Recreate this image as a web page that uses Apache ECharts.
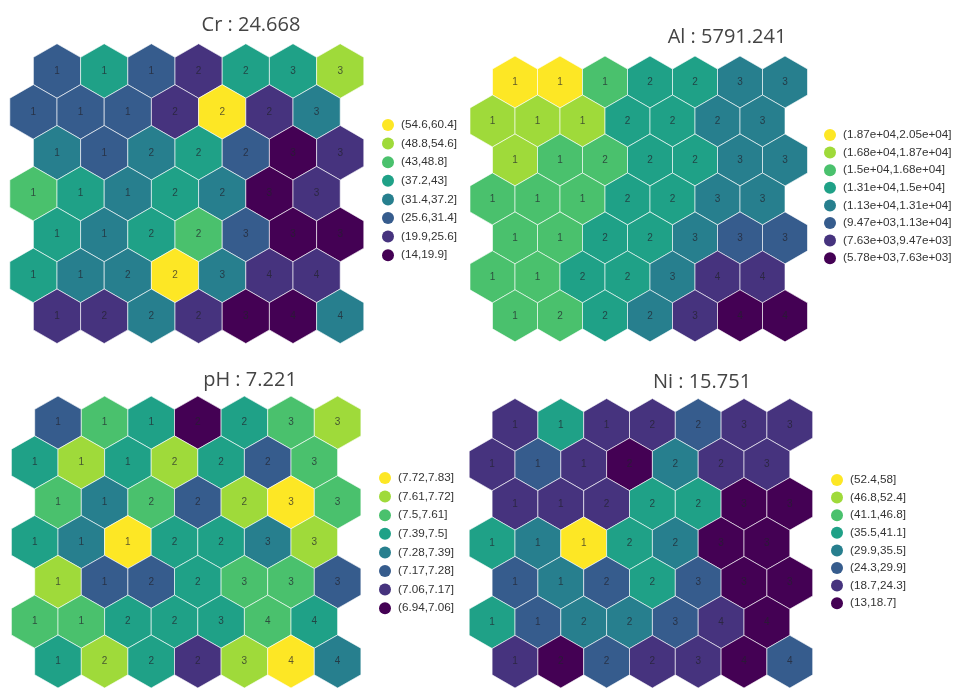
<!DOCTYPE html>
<html>
<head>
<meta charset="utf-8">
<title>SOM property maps</title>
<script src="https://cdn.jsdelivr.net/npm/echarts@6/dist/echarts.min.js"></script>
<style>
  html, body { margin: 0; padding: 0; background: #fff; }
  #chart { width: 953px; height: 688px; }
</style>
</head>
<body>
<div id="chart"></div>
<script>
// Cluster assignment of each SOM node (rows top to bottom, 7 x 7)
const clusters = [
  [1, 1, 1, 2, 2, 3, 3],
  [1, 1, 1, 2, 2, 2, 3],
  [1, 1, 2, 2, 2, 3, 3],
  [1, 1, 1, 2, 2, 3, 3],
  [1, 1, 2, 2, 3, 3, 3],
  [1, 1, 2, 2, 3, 4, 4],
  [1, 2, 2, 2, 3, 4, 4]
];

// Node codebook values per variable
const crValues = [
  [29.1, 40.2, 28.7, 22.4, 39.5, 38.1, 51.3],
  [27.9, 28.4, 29.6, 23.1, 59.8, 22.0, 34.2],
  [33.5, 27.2, 35.1, 39.8, 30.2, 15.6, 23.7],
  [46.2, 38.9, 34.6, 40.1, 33.2, 16.3, 22.9],
  [39.0, 35.8, 38.3, 44.7, 29.4, 17.2, 18.1],
  [40.6, 34.1, 33.9, 57.5, 35.4, 24.2, 23.6],
  [21.8, 23.3, 36.0, 22.7, 16.9, 18.4, 33.0]
];
const alValues = [
  [20400, 19600, 15900, 14100, 14300, 12400, 12000],
  [17600, 17900, 17300, 13800, 14000, 12600, 12200],
  [17100, 15600, 15300, 14200, 14500, 12500, 12300],
  [16000, 15800, 15400, 13900, 13700, 12100, 12300],
  [15700, 15500, 13600, 13500, 12000, 10900, 10700],
  [15900, 15600, 13400, 13300, 11900, 8900, 9100],
  [15500, 15200, 13200, 13100, 8600, 6200, 5900]
];
const phValues = [
  [7.22, 7.55, 7.44, 6.98, 7.46, 7.57, 7.66],
  [7.43, 7.68, 7.45, 7.64, 7.47, 7.24, 7.56],
  [7.54, 7.33, 7.58, 7.21, 7.69, 7.81, 7.53],
  [7.42, 7.35, 7.78, 7.46, 7.44, 7.31, 7.65],
  [7.67, 7.20, 7.23, 7.48, 7.55, 7.57, 7.25],
  [7.52, 7.54, 7.45, 7.41, 7.44, 7.59, 7.47],
  [7.42, 7.63, 7.46, 7.12, 7.66, 7.75, 7.34]
];
const niValues = [
  [21.4, 38.2, 22.3, 21.9, 26.8, 20.5, 21.1],
  [20.7, 27.5, 22.0, 15.3, 32.4, 21.6, 22.8],
  [22.9, 21.2, 23.4, 37.6, 38.9, 14.2, 13.8],
  [37.1, 33.6, 57.6, 38.4, 31.7, 14.8, 15.6],
  [28.3, 32.9, 27.1, 39.2, 26.4, 16.0, 13.5],
  [38.7, 27.9, 31.2, 32.1, 28.0, 22.5, 17.4],
  [21.0, 16.8, 26.2, 21.7, 23.0, 17.9, 27.4]
];

// Bin edges (low to high) and their legend labels
const crBreaks = [14, 19.9, 25.6, 31.4, 37.2, 43, 48.8, 54.6, 60.4];
const crLabels = ['(14,19.9]', '(19.9,25.6]', '(25.6,31.4]', '(31.4,37.2]', '(37.2,43]', '(43,48.8]', '(48.8,54.6]', '(54.6,60.4]'];
const alBreaks = [5780, 7630, 9470, 11300, 13100, 15000, 16800, 18700, 20500];
const alLabels = ['(5.78e+03,7.63e+03]', '(7.63e+03,9.47e+03]', '(9.47e+03,1.13e+04]', '(1.13e+04,1.31e+04]', '(1.31e+04,1.5e+04]', '(1.5e+04,1.68e+04]', '(1.68e+04,1.87e+04]', '(1.87e+04,2.05e+04]'];
const phBreaks = [6.94, 7.06, 7.17, 7.28, 7.39, 7.5, 7.61, 7.72, 7.83];
const phLabels = ['(6.94,7.06]', '(7.06,7.17]', '(7.17,7.28]', '(7.28,7.39]', '(7.39,7.5]', '(7.5,7.61]', '(7.61,7.72]', '(7.72,7.83]'];
const niBreaks = [13, 18.7, 24.3, 29.9, 35.5, 41.1, 46.8, 52.4, 58];
const niLabels = ['(13,18.7]', '(18.7,24.3]', '(24.3,29.9]', '(29.9,35.5]', '(35.5,41.1]', '(41.1,46.8]', '(46.8,52.4]', '(52.4,58]'];

const titles = ['Cr : 24.668', 'Al : 5791.241', 'pH : 7.221', 'Ni : 15.751'];

// viridis, 8 steps
const palette = ['#440154', '#46337E', '#365C8D', '#277F8E', '#1FA187', '#4AC16D', '#9FDA3A', '#FDE725'];

const SQ3 = Math.sqrt(3);
const R = 1 / SQ3;          // hex circumradius for unit spacing
const ROW_STEP = SQ3 / 2;   // vertical distance between rows

// Panel placement: first centre of the top row, hex spacing, title and legend anchors
const panels = [
  { values: crValues, breaks: crBreaks, labels: crLabels, cx: 57, cy: 71, w: 47.2, tx: 251, ty: 25, lx: 367, ly: 104, gap: 6.6 },
  { values: alValues, breaks: alBreaks, labels: alLabels, cx: 515, cy: 82, w: 45, tx: 727, ty: 37, lx: 809, ly: 114, gap: 5.6 },
  { values: phValues, breaks: phBreaks, labels: phLabels, cx: 58, cy: 423, w: 46.6, tx: 250, ty: 380, lx: 364, ly: 457, gap: 6.6 },
  { values: niValues, breaks: niBreaks, labels: niLabels, cx: 515, cy: 425, w: 45.8, tx: 702, ty: 382, lx: 816, ly: 459, gap: 5.6 }
];

function nodeData(values) {
  const out = [];
  for (let r = 0; r < values.length; r++) {
    for (let c = 0; c < values[r].length; c++) {
      const x = c + (r % 2 === 0 ? 0.5 : 0);
      out.push([x, r * ROW_STEP, values[r][c], clusters[r][c]]);
    }
  }
  return out;
}

function renderHex(params, api) {
  const center = api.coord([api.value(0), api.value(1)]);
  const unit = api.size([1, 1]);
  const pts = [];
  for (let k = 0; k < 6; k++) {
    const a = Math.PI / 2 + k * Math.PI / 3;
    pts.push([center[0] + R * unit[0] * Math.cos(a), center[1] + R * unit[1] * Math.sin(a)]);
  }
  return {
    type: 'group',
    children: [
      {
        type: 'polygon',
        shape: { points: pts },
        style: { fill: api.visual('color'), stroke: 'rgba(255,255,255,0.6)', lineWidth: 1 }
      },
      {
        type: 'text',
        x: center[0],
        y: center[1],
        style: {
          text: String(api.value(3)),
          align: 'center',
          verticalAlign: 'middle',
          fontSize: 10,
          fontFamily: 'Liberation Sans, Arial, sans-serif',
          fill: 'rgba(35,35,45,0.72)'
        }
      }
    ]
  };
}

const grids = [], xAxes = [], yAxes = [], series = [], visualMaps = [], graphics = [];
const yMax = 6 * ROW_STEP + R;

panels.forEach((p, i) => {
  grids.push({
    left: p.cx - p.w,
    top: p.cy - R * p.w,
    width: 7.5 * p.w,
    height: (6 * ROW_STEP + 2 * R) * p.w
  });
  xAxes.push({ type: 'value', gridIndex: i, min: -0.5, max: 7, show: false });
  yAxes.push({ type: 'value', gridIndex: i, min: -R, max: yMax, inverse: true, show: false });
  series.push({
    type: 'custom',
    xAxisIndex: i,
    yAxisIndex: i,
    data: nodeData(p.values),
    renderItem: renderHex,
    silent: true,
    animation: false
  });
  visualMaps.push({
    type: 'piecewise',
    seriesIndex: i,
    dimension: 2,
    left: p.lx,
    top: p.ly,
    orient: 'vertical',
    align: 'left',
    itemWidth: 12,
    itemHeight: 12,
    itemGap: p.gap,
    itemSymbol: 'circle',
    textGap: 7,
    selectedMode: false,
    hoverLink: false,
    textStyle: { fontSize: 11.7, color: '#333', fontFamily: 'Liberation Sans, Arial, sans-serif' },
    pieces: p.labels.map((lab, k) => ({
      gt: p.breaks[k],
      lte: p.breaks[k + 1],
      label: lab,
      color: palette[k]
    })),
    outOfRange: { color: '#ccc' }
  });
  graphics.push({
    type: 'text',
    x: p.tx,
    y: p.ty,
    style: {
      text: titles[i],
      align: 'center',
      verticalAlign: 'middle',
      fontSize: 20,
      fontFamily: 'Open Sans, sans-serif',
      fill: '#444'
    }
  });
});

const chart = echarts.init(document.getElementById('chart'), null, { renderer: 'canvas' });
chart.setOption({
  animation: false,
  backgroundColor: '#fff',
  grid: grids,
  xAxis: xAxes,
  yAxis: yAxes,
  visualMap: visualMaps,
  series: series,
  graphic: graphics
});
</script>
</body>
</html>
